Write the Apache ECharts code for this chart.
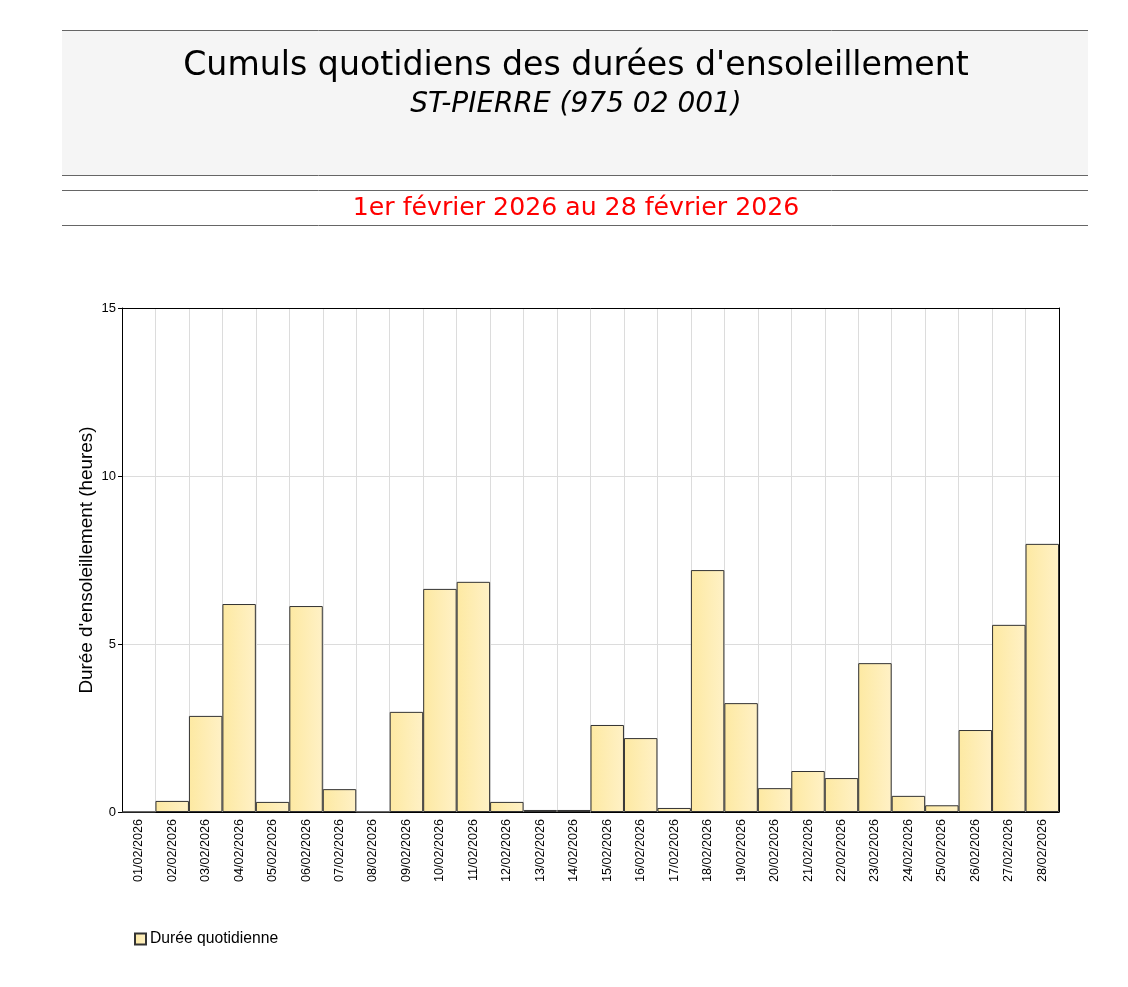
<!DOCTYPE html>
<html>
<head>
<meta charset="utf-8">
<script src="https://cdn.jsdelivr.net/npm/echarts@6/dist/echarts.min.js"></script>
<style>
  html, body { margin: 0; padding: 0; background: #fff; }
  #chart { width: 1128px; height: 987px; }
</style>
</head>
<body>
<div id="chart"></div>
<script>
const days = ['01/02/2026', '02/02/2026', '03/02/2026', '04/02/2026', '05/02/2026', '06/02/2026', '07/02/2026',
  '08/02/2026', '09/02/2026', '10/02/2026', '11/02/2026', '12/02/2026', '13/02/2026', '14/02/2026',
  '15/02/2026', '16/02/2026', '17/02/2026', '18/02/2026', '19/02/2026', '20/02/2026', '21/02/2026',
  '22/02/2026', '23/02/2026', '24/02/2026', '25/02/2026', '26/02/2026', '27/02/2026', '28/02/2026'];
const sunHours = [0, 0.33, 2.86, 6.19, 0.3, 6.13, 0.68,
  0, 2.98, 6.64, 6.85, 0.3, 0.06, 0.06,
  2.59, 2.2, 0.12, 7.2, 3.24, 0.71, 1.22,
  1.01, 4.43, 0.48, 0.2, 2.44, 5.57, 7.98];
const yTicks = [0, 5, 10, 15];

const chartDom = document.getElementById('chart');
const myChart = echarts.init(chartDom);
const lineStyle = { stroke: '#666', lineWidth: 1 };
const titleText = (text, y, size, extra) => ({
  type: 'text', x: 576, y: y,
  style: Object.assign({ text: text, align: 'center', verticalAlign: 'top',
    fontFamily: 'DejaVu Sans', fontSize: size, fill: '#000' }, extra || {})
});
const option = {
  animation: false,
  graphic: [
    { type: 'rect', z: -1, shape: { x: 62, y: 30, width: 1026, height: 145 }, style: { fill: '#f5f5f5' } },
    { type: 'line', shape: { x1: 62, y1: 30.5, x2: 1088, y2: 30.5 }, style: lineStyle },
    { type: 'line', shape: { x1: 62, y1: 175.5, x2: 1088, y2: 175.5 }, style: lineStyle },
    { type: 'line', shape: { x1: 62, y1: 190.5, x2: 1088, y2: 190.5 }, style: lineStyle },
    { type: 'line', shape: { x1: 62, y1: 225.5, x2: 1088, y2: 225.5 }, style: lineStyle },
    titleText('Cumuls quotidiens des durées d\'ensoleillement', 50, 33.2),
    titleText('ST-PIERRE (975 02 001)', 91, 28, { fontStyle: 'italic' }),
    titleText('1er février 2026 au 28 février 2026', 196, 25.2, { fill: '#ff0000' })
  ],
  legend: {
    left: 129, top: 926, itemWidth: 11, itemHeight: 11, itemGap: 5,
    icon: 'rect',
    textStyle: { fontFamily: 'Liberation Sans', fontSize: 15.7, color: '#000', padding: [0, 0, 0, -1] },
    data: ['Durée quotidienne']
  },
  grid: { left: 122, right: 69, top: 308, bottom: 175 },
  xAxis: [{
    type: 'category',
    data: days,
    boundaryGap: true,
    axisLine: { lineStyle: { color: '#000' } },
    axisTick: { show: false },
    splitLine: { show: true, showMinLine: false, showMaxLine: false, lineStyle: { color: '#dcdcdc' } },
    axisLabel: { rotate: 90, interval: 0, margin: 7, fontFamily: 'Liberation Sans', fontSize: 12.6, color: '#000' }
  }, {
    type: 'category',
    position: 'top',
    data: days,
    axisLine: { onZero: false, lineStyle: { color: '#000' } },
    axisTick: { show: false },
    axisLabel: { show: false },
    splitLine: { show: false }
  }],
  yAxis: [{
    type: 'value',
    min: yTicks[0], max: yTicks[yTicks.length - 1], interval: 5,
    name: 'Durée d\'ensoleillement (heures)',
    nameLocation: 'middle', nameGap: 26, nameMoveOverlap: false,
    nameTextStyle: { fontFamily: 'Liberation Sans', fontSize: 18.9, color: '#000' },
    axisLine: { show: true, lineStyle: { color: '#000' } },
    axisTick: { show: true, length: 4, lineStyle: { color: '#000' } },
    splitLine: { showMinLine: false, showMaxLine: false, lineStyle: { color: '#dcdcdc' } },
    axisLabel: { margin: 6, fontFamily: 'Liberation Sans', fontSize: 13, color: '#000' }
  }, {
    type: 'value',
    position: 'right',
    min: yTicks[0], max: yTicks[yTicks.length - 1], interval: 5,
    axisLine: { show: true, onZero: false, lineStyle: { color: '#000' } },
    axisTick: { show: false },
    axisLabel: { show: false },
    splitLine: { show: false }
  }],
  series: [{
    name: 'Durée quotidienne',
    type: 'bar',
    data: sunHours,
    barCategoryGap: '0%',
    itemStyle: {
      color: new echarts.graphic.LinearGradient(0, 0, 1, 0, [
        { offset: 0, color: '#fde9a2' },
        { offset: 1, color: '#fff1c6' }
      ]),
      borderColor: '#333',
      borderWidth: 1
    }
  }]
};
option && myChart.setOption(option);
</script>
</body>
</html>
